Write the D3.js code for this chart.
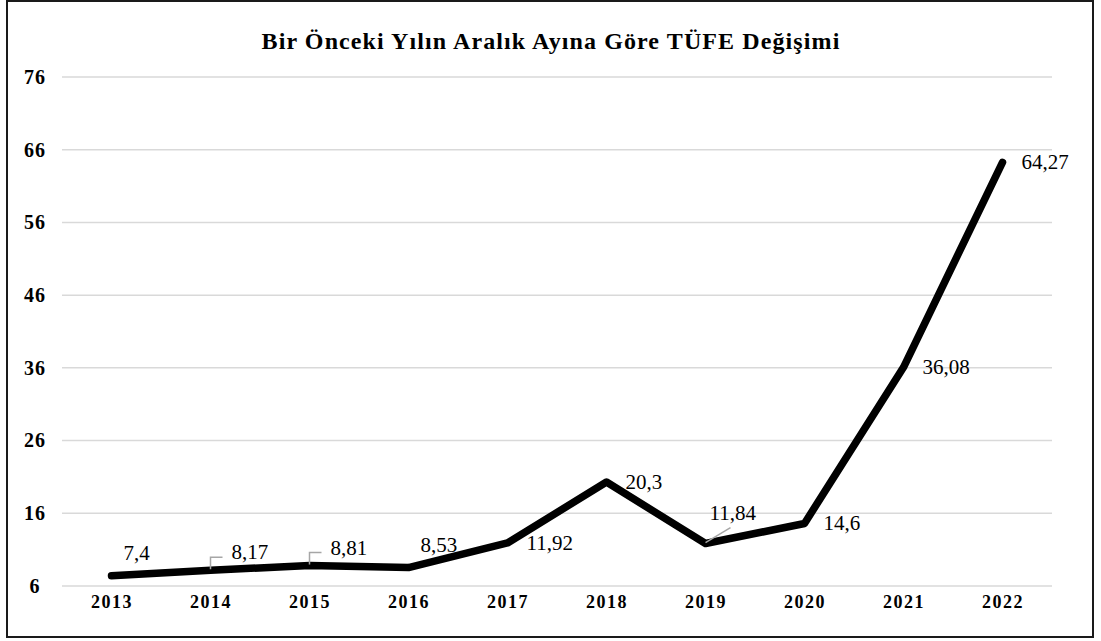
<!DOCTYPE html>
<html>
<head>
<meta charset="utf-8">
<script src="https://cdn.jsdelivr.net/npm/d3@7"></script>
<style>
  body { margin: 0; background: #fff; }
  svg text { font-family: "Liberation Serif", "Times New Roman", Times, serif !important; }
</style>
</head>
<body>
<svg id="chart" width="1101" height="641"></svg>
<script>
// chart data
const years = ["2013", "2014", "2015", "2016", "2017", "2018", "2019", "2020", "2021", "2022"];
const tufe = [7.4, 8.17, 8.81, 8.53, 11.92, 20.3, 11.84, 14.6, 36.08, 64.27];
const yTicks = [6, 16, 26, 36, 46, 56, 66, 76];
// where each data label sits relative to its point
const labelPlacement = ["above", "leader", "leader", "above", "right", "right", "diag", "right", "right", "right"];
const title = "Bir Önceki Yılın Aralık Ayına Göre TÜFE Değişimi";

const svg = d3.select("#chart");

// outer frame
svg.append("rect")
    .attr("x", 7).attr("y", 1)
    .attr("width", 1086).attr("height", 636)
    .attr("fill", "none")
    .attr("stroke", "#1a1a1a")
    .attr("stroke-width", 2);

svg.append("text")
    .attr("x", 551).attr("y", 49)
    .attr("text-anchor", "middle")
    .attr("font-size", 24)
    .attr("font-weight", "bold")
    .attr("letter-spacing", 1.1)
    .text(title);

const x = d3.scalePoint().domain(years).range([62, 1052]).padding(0.5);
const y = d3.scaleLinear().domain([6, 76]).range([586, 77]);

// gridlines
svg.append("g")
    .selectAll("line")
    .data(yTicks)
    .enter()
    .append("line")
    .attr("x1", 62).attr("x2", 1052)
    .attr("y1", d => y(d)).attr("y2", d => y(d))
    .attr("stroke", "#d9d9d9")
    .attr("stroke-width", 1.5);

// y axis labels
const yAxis = svg.append("g")
    .attr("transform", "translate(35,0)")
    .call(d3.axisLeft(y).tickValues(yTicks).tickSize(0).tickPadding(0));
yAxis.select(".domain").remove();
yAxis.selectAll("text")
    .attr("text-anchor", "middle")
    .attr("font-size", 20)
    .attr("font-weight", "bold")
    .attr("letter-spacing", 1)
    .attr("fill", "#000");

// x axis labels
const xAxis = svg.append("g")
    .attr("transform", "translate(0,595)")
    .call(d3.axisBottom(x).tickSize(0).tickPadding(0));
xAxis.select(".domain").remove();
xAxis.selectAll("text")
    .attr("dy", "0.71em")
    .attr("font-size", 18)
    .attr("font-weight", "bold")
    .attr("letter-spacing", 1.5)
    .attr("fill", "#000");

const pts = years.map((yr, i) => ({ year: yr, value: tufe[i], place: labelPlacement[i] }));

// main line
const line = d3.line().x(d => x(d.year)).y(d => y(d.value));
svg.append("path")
    .datum(pts)
    .attr("d", line)
    .attr("fill", "none")
    .attr("stroke", "#000")
    .attr("stroke-width", 7.5)
    .attr("stroke-linecap", "round")
    .attr("stroke-linejoin", "round");

// leader lines
const leaders = svg.append("g")
    .attr("fill", "none")
    .attr("stroke", "#a6a6a6")
    .attr("stroke-width", 1.5);

pts.forEach(d => {
    const px = x(d.year), py = y(d.value);
    if (d.place === "leader") {
        leaders.append("path")
            .attr("d", `M${px},${py - 1}V${py - 13}H${px + 12}`);
    } else if (d.place === "diag") {
        leaders.append("path")
            .attr("d", `M${px},${py - 1}L${px + 25},${py - 16}`);
    }
});

// data labels
svg.append("g")
    .selectAll("text")
    .data(pts)
    .enter()
    .append("text")
    .attr("font-size", 21)
    .attr("fill", "#000")
    .attr("x", d => {
        const px = x(d.year);
        if (d.place === "above") return px + 12;
        if (d.place === "leader") return px + 21;
        if (d.place === "diag") return px + 4;
        return px + 19;
    })
    .attr("y", d => {
        const py = y(d.value);
        if (d.place === "above") return py - 16;
        if (d.place === "leader") return py - 11;
        if (d.place === "diag") return py - 24;
        return py + 7;
    })
    .text(d => String(d.value).replace(".", ","));
</script>
</body>
</html>
